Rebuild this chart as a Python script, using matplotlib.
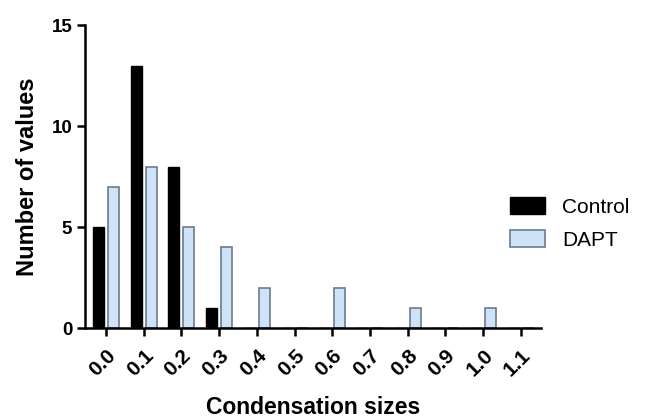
import matplotlib
matplotlib.use('Agg')
import matplotlib.pyplot as plt
import numpy as np

plt.rcParams['font.family'] = ['Liberation Sans', 'DejaVu Sans']

bins = [0.0, 0.1, 0.2, 0.3, 0.4, 0.5, 0.6, 0.7, 0.8, 0.9, 1.0, 1.1]
tick_labels = ['0.0', '0.1', '0.2', '0.3', '0.4', '0.5', '0.6', '0.7', '0.8', '0.9', '1.0', '1.1']
control = [5, 13, 8, 1, 0, 0, 0, 0, 0, 0, 0, 0]
dapt = [7, 8, 5, 4, 2, 0, 2, 0, 1, 0, 1, 0]

fig = plt.figure(figsize=(6.47, 4.19), dpi=100)
ax = fig.add_axes([0.131, 0.217, 0.705, 0.723])

x = np.array(bins)
w = 0.029
ax.bar(x - 0.02, control, width=w, color='black', edgecolor='black', linewidth=1, label='Control')
ax.bar(x + 0.02, dapt, width=w, color='#cfe3f8', edgecolor='#6b7a8f', linewidth=1.2, label='DAPT')

ax.set_xlim(-0.056, 1.153)
ax.set_ylim(0, 15)
ax.set_yticks([0, 5, 10, 15])
ax.set_xticks(bins)
ax.set_xticklabels(tick_labels, rotation=45, ha='right', rotation_mode='anchor', fontweight='bold', fontsize=15)
for lab in ax.get_yticklabels():
    lab.set_fontweight('bold')
    lab.set_fontsize(13.5)

for s in ['top', 'right']:
    ax.spines[s].set_visible(False)
for s in ['left', 'bottom']:
    ax.spines[s].set_linewidth(1.8)
ax.tick_params(width=1.8, length=6)
ax.tick_params(axis='y', pad=3)
ax.tick_params(axis='x', pad=7)

ax.set_ylabel('Number of values', fontsize=17, fontweight='bold', labelpad=9)
ax.set_xlabel('Condensation sizes', fontsize=16.5, fontweight='bold', labelpad=11)

fig.legend(loc='center left', bbox_to_anchor=(0.759, 0.467), bbox_transform=fig.transFigure,
           frameon=False, fontsize=15, handlelength=1.7, handleheight=0.85,
           handletextpad=0.8, labelspacing=0.65)

plt.savefig('out.png', dpi=100)
